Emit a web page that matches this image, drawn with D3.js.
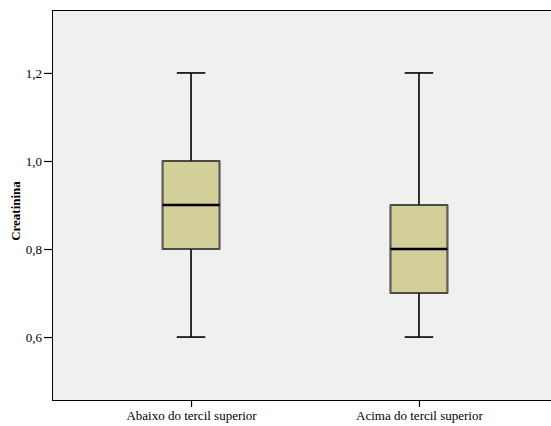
<!DOCTYPE html>
<html>
<head>
<meta charset="utf-8">
<script src="https://cdn.jsdelivr.net/npm/d3@7"></script>
<style>
  html, body { margin: 0; padding: 0; background: #ffffff; overflow: hidden; }
  svg { display: block; }
  text { font-family: "Liberation Serif", "Times New Roman", serif; fill: #000; }
</style>
</head>
<body>
<svg id="chart" width="551" height="426"></svg>
<script>
// Creatinina por grupo de tercil
const categories = ["Abaixo do tercil superior", "Acima do tercil superior"];
const whiskerLow  = [0.6, 0.6];
const quartile1   = [0.8, 0.7];
const medians     = [0.9, 0.8];
const quartile3   = [1.0, 0.9];
const whiskerHigh = [1.2, 1.2];
const yTicks = [0.6, 0.8, 1.0, 1.2];
const yLabel = "Creatinina";

const svg = d3.select("#chart");
const plot = { left: 52, top: 10, right: 558, bottom: 400 };
const fontFamily = "'Liberation Serif', 'Times New Roman', serif";

const y = d3.scaleLinear()
  .domain([0.457, 1.343])
  .range([plot.bottom, plot.top]);

const x = d3.scalePoint()
  .domain(categories)
  .range([plot.left, plot.right])
  .padding(0.61);

const step = x.step();
const boxW = step * 0.25;
const capW = boxW * 0.5;

// plot background and frame
svg.append("rect")
  .attr("x", plot.left).attr("y", plot.top)
  .attr("width", plot.right - plot.left).attr("height", plot.bottom - plot.top)
  .attr("fill", "#f0f0f0")
  .attr("stroke", "#000").attr("stroke-width", 1)
  .attr("shape-rendering", "crispEdges");

// y axis
const yAxis = d3.axisLeft(y)
  .tickValues(yTicks)
  .tickSize(8)
  .tickPadding(2)
  .tickFormat(d => d3.format(".1f")(d).replace(".", ","));

const gy = svg.append("g")
  .attr("transform", `translate(${plot.left},0)`)
  .attr("font-family", fontFamily)
  .call(yAxis);
gy.select(".domain").remove();
gy.selectAll(".tick line").attr("stroke", "#000").attr("stroke-width", 1.2);
gy.selectAll(".tick text")
  .attr("font-size", 13)
  .attr("font-family", fontFamily)
  .attr("fill", "#000");

// x axis
const xAxis = d3.axisBottom(x).tickSize(7).tickPadding(4);
const gx = svg.append("g")
  .attr("transform", `translate(0,${plot.bottom})`)
  .attr("font-family", fontFamily)
  .call(xAxis);
gx.select(".domain").remove();
gx.selectAll(".tick line").attr("stroke", "#000").attr("stroke-width", 1.2);
gx.selectAll(".tick text")
  .attr("font-size", 13)
  .attr("font-family", fontFamily)
  .attr("fill", "#000");

// y axis title
svg.append("text")
  .attr("transform", `translate(20,${(plot.top + plot.bottom) / 2 + 6}) rotate(-90)`)
  .attr("text-anchor", "middle")
  .attr("font-family", fontFamily)
  .attr("font-size", 13)
  .attr("font-weight", "bold")
  .text(yLabel);

// boxes
const stats = categories.map((c, i) => ({
  cat: c,
  lo: whiskerLow[i], q1: quartile1[i], med: medians[i], q3: quartile3[i], hi: whiskerHigh[i]
}));

const g = svg.append("g");
stats.forEach(s => {
  const cx = x(s.cat);
  // whiskers
  g.append("line")
    .attr("x1", cx).attr("x2", cx)
    .attr("y1", y(s.hi)).attr("y2", y(s.q3))
    .attr("stroke", "#000").attr("stroke-width", 1.6);
  g.append("line")
    .attr("x1", cx).attr("x2", cx)
    .attr("y1", y(s.q1)).attr("y2", y(s.lo))
    .attr("stroke", "#000").attr("stroke-width", 1.6);
  // caps
  [s.hi, s.lo].forEach(v => {
    g.append("line")
      .attr("x1", cx - capW / 2).attr("x2", cx + capW / 2)
      .attr("y1", y(v)).attr("y2", y(v))
      .attr("stroke", "#000").attr("stroke-width", 1.6);
  });
  // box
  g.append("rect")
    .attr("x", cx - boxW / 2).attr("y", y(s.q3))
    .attr("width", boxW).attr("height", y(s.q1) - y(s.q3))
    .attr("fill", "#d3cf99")
    .attr("stroke", "#1a1a1a").attr("stroke-width", 1.5);
  // side shading of box edges
  [cx - boxW / 2, cx + boxW / 2].forEach(xx => {
    g.append("line")
      .attr("x1", xx).attr("x2", xx)
      .attr("y1", y(s.q3)).attr("y2", y(s.q1))
      .attr("stroke", "#5e5e5e").attr("stroke-width", 1.8);
  });
  // median
  g.append("line")
    .attr("x1", cx - boxW / 2).attr("x2", cx + boxW / 2)
    .attr("y1", y(s.med)).attr("y2", y(s.med))
    .attr("stroke", "#000").attr("stroke-width", 2.6);
});
</script>
</body>
</html>
